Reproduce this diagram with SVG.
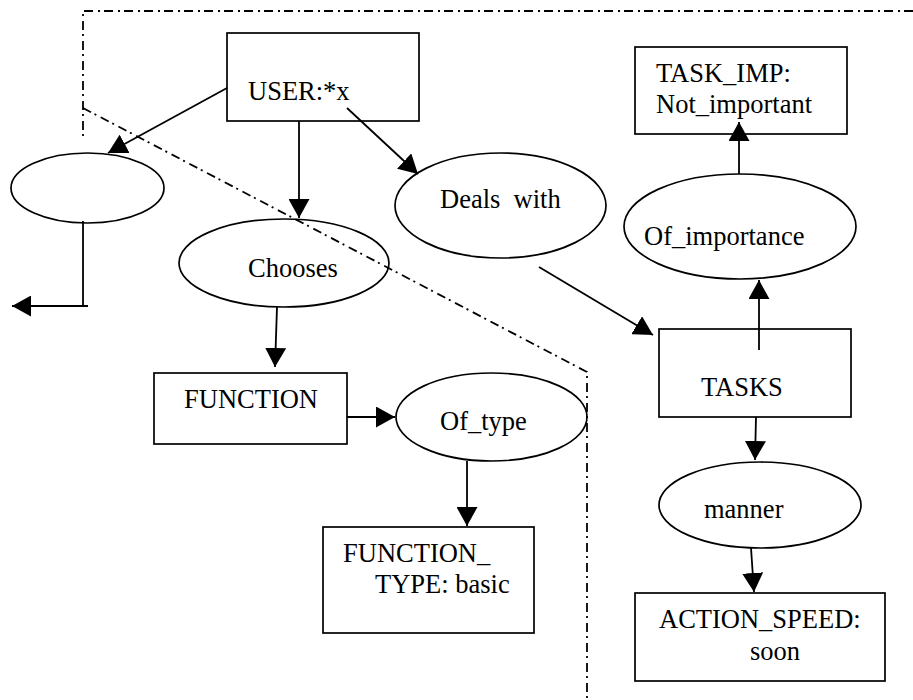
<svg xmlns="http://www.w3.org/2000/svg" width="913" height="700" viewBox="0 0 913 700">
  <style>
    .box { fill: none; stroke: #000; stroke-width: 1.7; }
    .ell { fill: none; stroke: #000; stroke-width: 1.7; }
    .lbl { font-size: 26.5px; fill: #000; }
    .edge { fill: none; stroke: #000; stroke-width: 1.8; }
    .arrow { fill: none; stroke: #000; stroke-width: 1.8; marker-end: url(#head); }
    .zone { fill: none; stroke: #000; stroke-width: 1.8; stroke-dasharray: 9 4 2 5; }
  </style>
  <defs>
    <marker id="head" markerUnits="userSpaceOnUse" markerWidth="20" markerHeight="21" refX="19" refY="10.5" orient="auto" viewBox="0 0 20 21">
      <path d="M0,0 L19,10.5 L0,21 z" fill="#000"/>
    </marker>
  </defs>

  <g font-family="Liberation Serif, Times New Roman, DejaVu Serif, serif">
    <g id="user">
      <rect class="box" x="227" y="33" width="192" height="88"/>
      <text class="lbl" x="248" y="100">USER:*x</text>
    </g>

    <g id="blank-relation">
      <ellipse class="ell" cx="87.5" cy="188" rx="76.5" ry="35"/>
    </g>

    <g id="chooses">
      <ellipse class="ell" cx="284" cy="263" rx="105" ry="44"/>
      <text class="lbl" x="248" y="277">Chooses</text>
    </g>

    <g id="deals-with">
      <ellipse class="ell" cx="500.5" cy="205.5" rx="105.5" ry="52.5"/>
      <text class="lbl" x="440" y="208" xml:space="preserve">Deals  with</text>
    </g>

    <g id="task-imp">
      <rect class="box" x="635" y="47" width="212" height="87"/>
      <text class="lbl" x="656" y="82">TASK_IMP:</text>
      <text class="lbl" x="656" y="113">Not_important</text>
    </g>

    <g id="of-importance">
      <ellipse class="ell" cx="740" cy="226.5" rx="116" ry="52.5"/>
      <text class="lbl" x="644" y="245">Of_importance</text>
    </g>

    <g id="tasks">
      <rect class="box" x="659" y="329" width="192" height="88"/>
      <text class="lbl" x="701" y="396">TASKS</text>
    </g>

    <g id="manner">
      <ellipse class="ell" cx="760" cy="505" rx="101" ry="43"/>
      <text class="lbl" x="704" y="518">manner</text>
    </g>

    <g id="action-speed">
      <rect class="box" x="635" y="593" width="250" height="88"/>
      <text class="lbl" x="659" y="628">ACTION_SPEED:</text>
      <text class="lbl" x="750" y="660">soon</text>
    </g>

    <g id="function">
      <rect class="box" x="154" y="373" width="193" height="71"/>
      <text class="lbl" x="184" y="408">FUNCTION</text>
    </g>

    <g id="of-type">
      <ellipse class="ell" cx="491.5" cy="417" rx="95.5" ry="44"/>
      <text class="lbl" x="440" y="430">Of_type</text>
    </g>

    <g id="function-type">
      <rect class="box" x="323" y="527" width="211" height="106"/>
      <text class="lbl" x="343" y="562">FUNCTION_</text>
      <text class="lbl" x="375" y="593">TYPE: basic</text>
    </g>
  </g>

  <!-- connectors -->
  <g id="connectors">
    <line class="arrow" x1="227" y1="88" x2="108" y2="153"/>
    <line class="arrow" x1="299" y1="121" x2="299" y2="218"/>
    <line class="arrow" x1="347" y1="108" x2="418" y2="174"/>
    <line class="edge" x1="83" y1="221" x2="83" y2="306"/>
    <line class="arrow" x1="88" y1="306" x2="12" y2="306"/>
    <line class="arrow" x1="277" y1="307" x2="275" y2="367"/>
    <line class="arrow" x1="347" y1="417" x2="395" y2="417"/>
    <line class="arrow" x1="467" y1="461" x2="467" y2="526"/>
    <line class="arrow" x1="539" y1="267" x2="653" y2="335"/>
    <line class="arrow" x1="759" y1="350" x2="759" y2="280"/>
    <line class="arrow" x1="739" y1="174" x2="739" y2="122"/>
    <line class="arrow" x1="756" y1="417" x2="755" y2="460"/>
    <line class="arrow" x1="751" y1="548" x2="754" y2="592"/>
  </g>

  <!-- dash-dot boundary of the scoped region -->
  <g id="boundary">
    <path class="zone" d="M913,11 H83 V137"/>
    <path class="zone" d="M83,108 L587,372 V700"/>
  </g>
</svg>
